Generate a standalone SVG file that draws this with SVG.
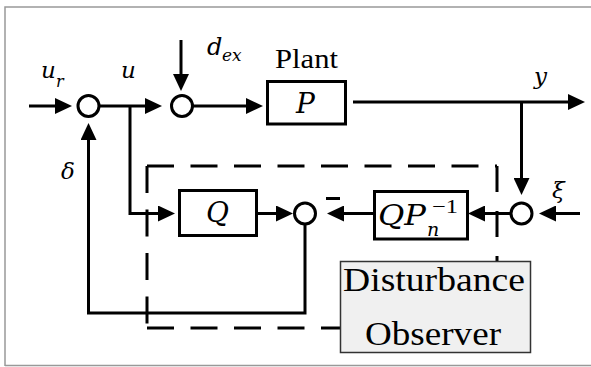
<svg xmlns="http://www.w3.org/2000/svg" width="591" height="367" viewBox="0 0 591 367">
<style>
.ln{fill:none;stroke:#000;stroke-width:3}
.ar{fill:none;stroke:#000;stroke-width:3;marker-end:url(#ah)}
.blk{fill:#fff;stroke:#000;stroke-width:3}
.sum{fill:#fff;stroke:#000;stroke-width:3}
.dash{fill:none;stroke:#000;stroke-width:3;stroke-dasharray:27 16.5}
.m{font-family:"DejaVu Serif","Liberation Serif",serif;font-style:italic;fill:#000}
.t{font-family:"Liberation Serif","DejaVu Serif",serif;fill:#000}
.frame{stroke:#999;stroke-width:1.5;fill:none}
</style>
<defs>
<marker id="ah" viewBox="0 0 17 16" refX="12" refY="8" markerWidth="17" markerHeight="16" markerUnits="userSpaceOnUse" orient="auto">
<path d="M0,0 L17,8 L0,16 Z" fill="#000"/>
</marker>
</defs>
<rect x="0" y="0" width="591" height="367" fill="#fff"/>
<g id="frame">
<path class="frame" d="M5,366 V7 H591 M5,365.5 H591"/>
</g>
<g id="observer-region">
<path class="dash" d="M147,166 H497"/>
<path class="dash" d="M147,166 V328"/>
<path class="dash" d="M147,328 H340"/>
<path class="dash" style="stroke-dasharray:26 19" d="M497,166 V261"/>
</g>
<g id="connectors">
<path class="ar" d="M29,106 H67"/>
<path class="ar" d="M99,106 H157"/>
<path class="ar" d="M130,106 V213.5 H170"/>
<path class="ar" d="M181,40 V86"/>
<path class="ar" d="M193,106 H258"/>
<path class="ar" d="M353,102 H580"/>
<path class="ar" d="M521.5,102 V190"/>
<path class="ar" d="M580,213.5 H544"/>
<path class="ar" d="M510,213.5 H473"/>
<path class="ar" d="M373,213.5 H332"/>
<path class="ar" d="M258,213.5 H288"/>
<path class="ar" d="M305,224.5 V313 H88.5 V128"/>
<path class="ln" d="M326,198.5 H340"/>
</g>
<g id="sum1"><circle class="sum" cx="88.5" cy="106" r="10.5"/></g>
<g id="sum2"><circle class="sum" cx="182" cy="106" r="10.5"/></g>
<g id="sum3"><circle class="sum" cx="305" cy="213.5" r="10.5"/></g>
<g id="sum4"><circle class="sum" cx="521.5" cy="213.5" r="10.5"/></g>
<g id="plant">
<rect class="blk" x="267.5" y="81.5" width="78" height="42.5"/>
<text class="t" x="275" y="68" font-size="27" textLength="63" lengthAdjust="spacingAndGlyphs">Plant</text>
<text class="m" x="296" y="113" font-size="28">P</text>
</g>
<g id="q">
<rect class="blk" x="179.5" y="190.5" width="77" height="45"/>
<text class="m" x="206" y="222" font-size="28">Q</text>
</g>
<g id="qpn">
<rect class="blk" x="374.5" y="191.5" width="93" height="47.5"/>
<text class="m" x="378" y="225" font-size="28" textLength="48" lengthAdjust="spacingAndGlyphs">QP</text>
<text class="t" x="432" y="213" font-size="19" textLength="26" lengthAdjust="spacingAndGlyphs">−1</text>
<text class="m" x="427" y="236" font-size="19">n</text>
</g>
<g id="dob">
<rect x="340.5" y="261.5" width="190" height="91" fill="#f0f0f0" stroke="#333" stroke-width="1.5"/>
<text class="t" x="343" y="291" font-size="34" textLength="182" lengthAdjust="spacingAndGlyphs">Disturbance</text>
<text class="t" x="365" y="345" font-size="34" textLength="136" lengthAdjust="spacingAndGlyphs">Observer</text>
</g>
<g id="labels">
<text class="m" x="41" y="78" font-size="23">u</text>
<text class="m" x="56" y="87" font-size="16">r</text>
<text class="m" x="121" y="78" font-size="23">u</text>
<text class="m" x="207" y="55" font-size="24">d</text>
<text class="m" x="222" y="61" font-size="17">ex</text>
<text class="m" x="534" y="84" font-size="23">y</text>
<text class="m" x="552" y="198" font-size="23">ξ</text>
<text class="m" x="61" y="179" font-size="23">δ</text>
</g>
</svg>
